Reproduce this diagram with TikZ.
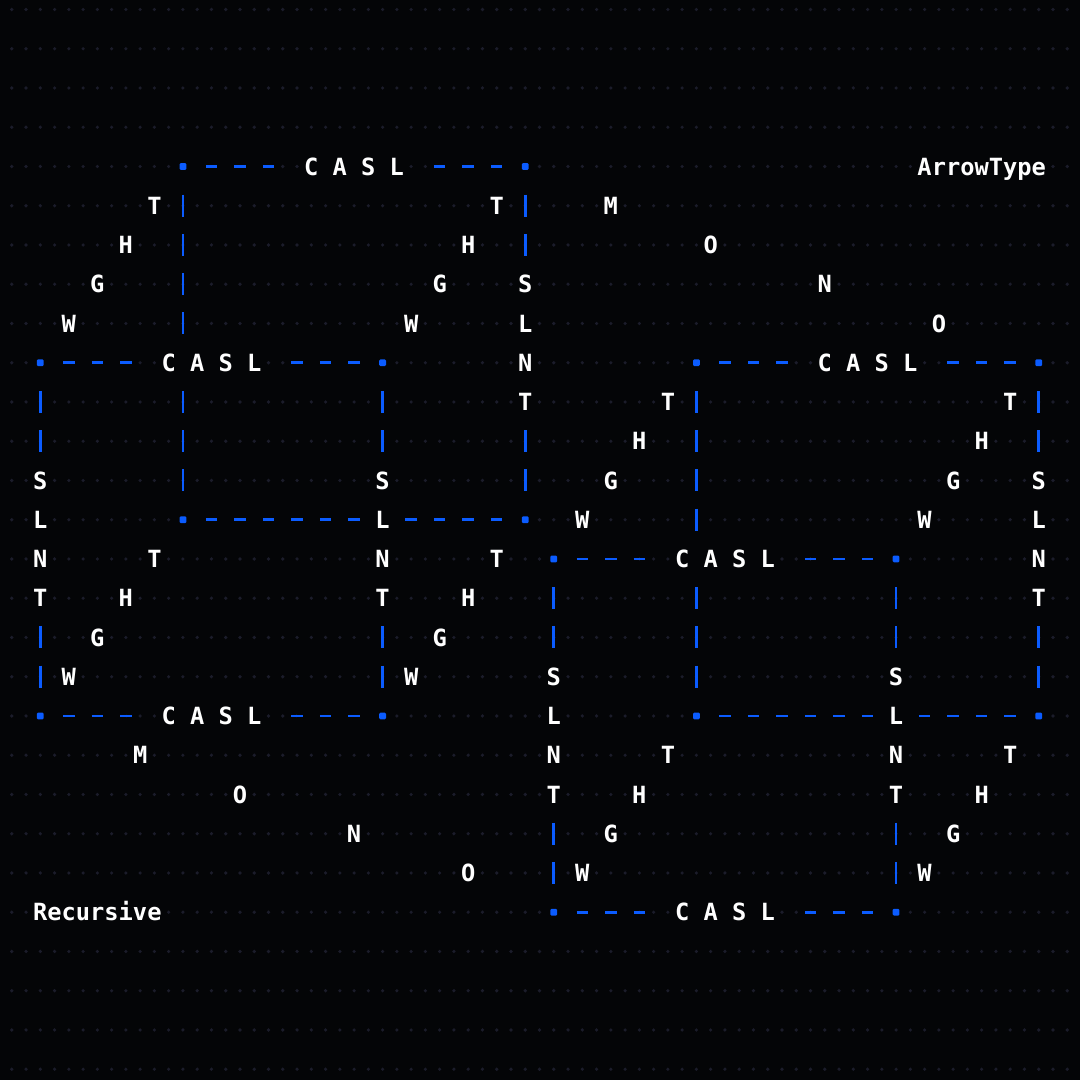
\documentclass[tikz,border=0pt]{standalone}
\usepackage{fontspec}
\usepackage{tikz}
\newfontfamily\gridfont{DejaVu Sans Mono}
\definecolor{bgcol}{HTML}{040507}
\definecolor{dotcol}{HTML}{1B1C2A}
\definecolor{edgeblue}{HTML}{0B5CFF}

\tikzset{
  glyph/.style={font=\gridfont\bfseries\fontsize{16.85pt}{20pt}\selectfont, text=white, fill=bgcol,
    inner sep=0pt, text height=0.43cm, text depth=0pt, anchor=center},
  edgetext/.style={glyph},
  hdash/.style={draw=edgeblue, line width=0.07cm},
  vbar/.style={draw=edgeblue, line width=0.07cm},
  cover/.style={draw=bgcol, line width=0.22cm},
  cornerdot/.style={fill=edgeblue, minimum size=0.17cm, inner sep=0pt, rounded corners=0.03cm}
}

% one cube: back face, front face and the depth edges
\newcommand{\cubeframe}[1]{%
  % keep the dot grid off the horizontal edges
  \draw[cover] (10,0) -- (16,0) (28,0) -- (34,0);
  \draw[cover] (10,9) -- (34,9);
  \draw[cover] (0,5) -- (6,5) (18,5) -- (24,5);
  \draw[cover] (0,14) -- (6,14) (18,14) -- (24,14);
  % back face
  \foreach \h in {12,14,16,28,30,32} \draw[hdash] (\h-0.4,0) -- (\h+0.4,0);
  \foreach \h in {12,14,16,18,20,22,26,28,30,32} \draw[hdash] (\h-0.4,9) -- (\h+0.4,9);
  \foreach \r in {1,2,3,4,6,7,8} \draw[vbar] (10,\r-0.28) -- (10,\r+0.28);
  \foreach \r in {1,2,7,8} \draw[vbar] (34,\r-0.28) -- (34,\r+0.28);
  \node[edgetext] (#1-btop) at (22,0) {C A S L};
  \foreach \c [count=\i] in {S,L,N,T} \node[glyph] (#1-bright\i) at (34,2+\i) {\c};
  % front face
  \foreach \h in {2,4,6,18,20,22} {
    \draw[hdash] (\h-0.4,5) -- (\h+0.4,5);
    \draw[hdash] (\h-0.4,14) -- (\h+0.4,14);
  }
  \foreach \r in {6,7,12,13} {
    \draw[vbar] (0,\r-0.28) -- (0,\r+0.28);
    \draw[vbar] (24,\r-0.28) -- (24,\r+0.28);
  }
  \node[edgetext] (#1-ftop) at (12,5) {C A S L};
  \node[edgetext] (#1-fbot) at (12,14) {C A S L};
  \foreach \c [count=\i] in {S,L,N,T} {
    \node[glyph] (#1-fleft\i) at (0,7+\i) {\c};
    \node[glyph] (#1-fright\i) at (24,7+\i) {\c};
  }
  % depth edges
  \foreach \c [count=\i] in {T,H,G,W} {
    \node[glyph] (#1-dnw\i) at (10-2*\i,\i) {\c};
    \node[glyph] (#1-dne\i) at (34-2*\i,\i) {\c};
    \node[glyph] (#1-dsw\i) at (10-2*\i,9+\i) {\c};
    \node[glyph] (#1-dse\i) at (34-2*\i,9+\i) {\c};
  }
  % corners
  \foreach \h/\r [count=\k] in {10/0,34/0,10/9,34/9,0/5,24/5,0/14,24/14}
    \node[cornerdot] (#1-k\k) at (\h,\r) {};
}

\begin{document}
\begin{tikzpicture}[x=0.35658cm, y=-0.98125cm]
    \useasboundingbox (-2.8255,-4.242) rectangle (72.895,23.274);
    \fill[bgcol] (-2.8255,-4.242) rectangle (72.895,23.274);

    % dot grid
    \foreach \r in {-4,...,23}
      \foreach \h in {-2,...,72}
        \fill[dotcol] (\h,\r) circle[radius=0.045cm];

    % the two cubes
    \cubeframe{p}
    \begin{scope}[shift={(36,5)}]
      \cubeframe{q}
    \end{scope}

    % arrows between them
    \foreach \c/\h/\r [count=\i] in {M/40/1,O/47/2,N/55/3,O/63/4}
      \node[glyph] (top\i) at (\h,\r) {\c};
    \foreach \c/\h/\r [count=\i] in {M/7/15,O/14/16,N/22/17,O/30/18}
      \node[glyph] (bot\i) at (\h,\r) {\c};

    % titles
    \node[glyph] (arrowtype) at (66,0) {ArrowType};
    \node[glyph] (recursive) at (4,19) {Recursive};
\end{tikzpicture}
\end{document}
